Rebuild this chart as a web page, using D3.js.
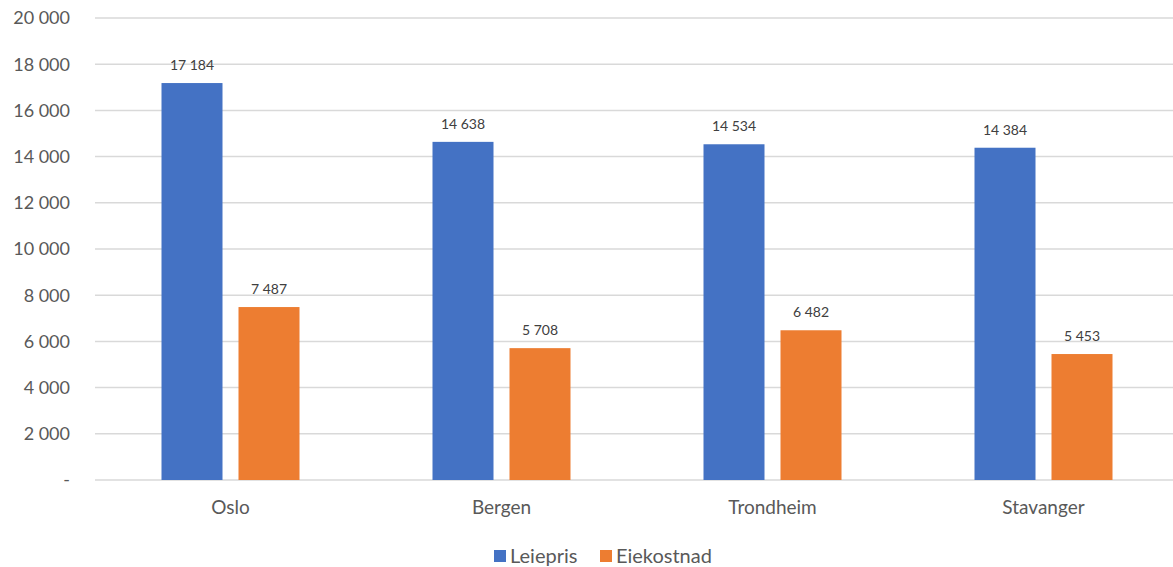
<!DOCTYPE html>
<html lang="no">
<head>
    <meta charset="UTF-8">
    <title>Leiepris og eiekostnad</title>
    <style>
        body {
            margin: 0;
            background: #fff;
            font-family: Lato, "Open Sans", sans-serif;
        }
        svg text {
            fill: #595959;
        }
    </style>
    <script src="https://d3js.org/d3.v7.min.js"></script>
</head>
<body>
    <svg width="1173" height="567"></svg>
    <script>
        const cities = ["Oslo", "Bergen", "Trondheim", "Stavanger"];
        const seriesNames = ["Leiepris", "Eiekostnad"];
        const leiepris = [17184, 14638, 14534, 14384];
        const eiekostnad = [7487, 5708, 6482, 5453];
        const yTicks = [0, 2000, 4000, 6000, 8000, 10000, 12000, 14000, 16000, 18000, 20000];
        const colors = ["#4472c4", "#ed7d31"];

        const plotLeft = 95, plotRight = 1179, plotTop = 18, plotBottom = 480;

        const svg = d3.select("svg");

        const fmt = v => v === 0 ? "-" : d3.format(",")(v).replace(/,/g, " ");

        const x = d3.scaleBand()
            .domain(cities)
            .range([plotLeft, plotRight]);

        const y = d3.scaleLinear()
            .domain([0, 20000])
            .range([plotBottom, plotTop]);

        // gridlines
        svg.append("g")
            .selectAll("line")
            .data(yTicks)
            .enter().append("line")
            .attr("x1", plotLeft)
            .attr("x2", plotRight)
            .attr("y1", d => y(d))
            .attr("y2", d => y(d))
            .attr("stroke", "#d9d9d9")
            .attr("stroke-width", 1.5);

        // y tick labels
        svg.append("g")
            .selectAll("text")
            .data(yTicks)
            .enter().append("text")
            .attr("x", 70)
            .attr("y", d => y(d))
            .attr("dy", "0.35em")
            .attr("text-anchor", "end")
            .style("font-size", "18px")
            .text(fmt);

        const barW = 61, gap = 16;
        const groupW = barW * 2 + gap;

        const rows = cities.map((c, i) => ({ city: c, values: [leiepris[i], eiekostnad[i]] }));

        const groups = svg.append("g")
            .selectAll("g")
            .data(rows)
            .enter().append("g")
            .attr("transform", d => `translate(${x(d.city) + (x.bandwidth() - groupW) / 2},0)`);

        const bars = groups.selectAll("g")
            .data(d => d.values.map((v, k) => ({ name: seriesNames[k], value: v, k })))
            .enter().append("g");

        bars.append("rect")
            .attr("x", d => d.k * (barW + gap))
            .attr("width", barW)
            .attr("y", d => y(d.value))
            .attr("height", d => plotBottom - y(d.value))
            .attr("fill", d => colors[d.k]);

        bars.append("text")
            .attr("x", d => d.k * (barW + gap) + barW / 2)
            .attr("y", d => y(d.value) - 13)
            .attr("text-anchor", "middle")
            .style("font-size", "14px")
            .style("fill", "#404040")
            .text(d => fmt(d.value));

        // x labels
        svg.append("g")
            .selectAll("text")
            .data(cities)
            .enter().append("text")
            .attr("x", d => x(d) + x.bandwidth() / 2)
            .attr("y", 507)
            .attr("dy", "0.35em")
            .attr("text-anchor", "middle")
            .style("font-size", "19px")
            .text(d => d);

        // legend
        const legendX = [494, 600];
        const legend = svg.append("g")
            .selectAll("g")
            .data(seriesNames)
            .enter().append("g")
            .attr("transform", (d, i) => `translate(${legendX[i]},550)`);

        legend.append("rect")
            .attr("width", 12)
            .attr("height", 12)
            .attr("fill", (d, i) => colors[i]);

        legend.append("text")
            .attr("x", 16)
            .attr("y", 6)
            .attr("dy", "0.35em")
            .style("font-size", "20px")
            .text(d => d);
    </script>
</body>
</html>
